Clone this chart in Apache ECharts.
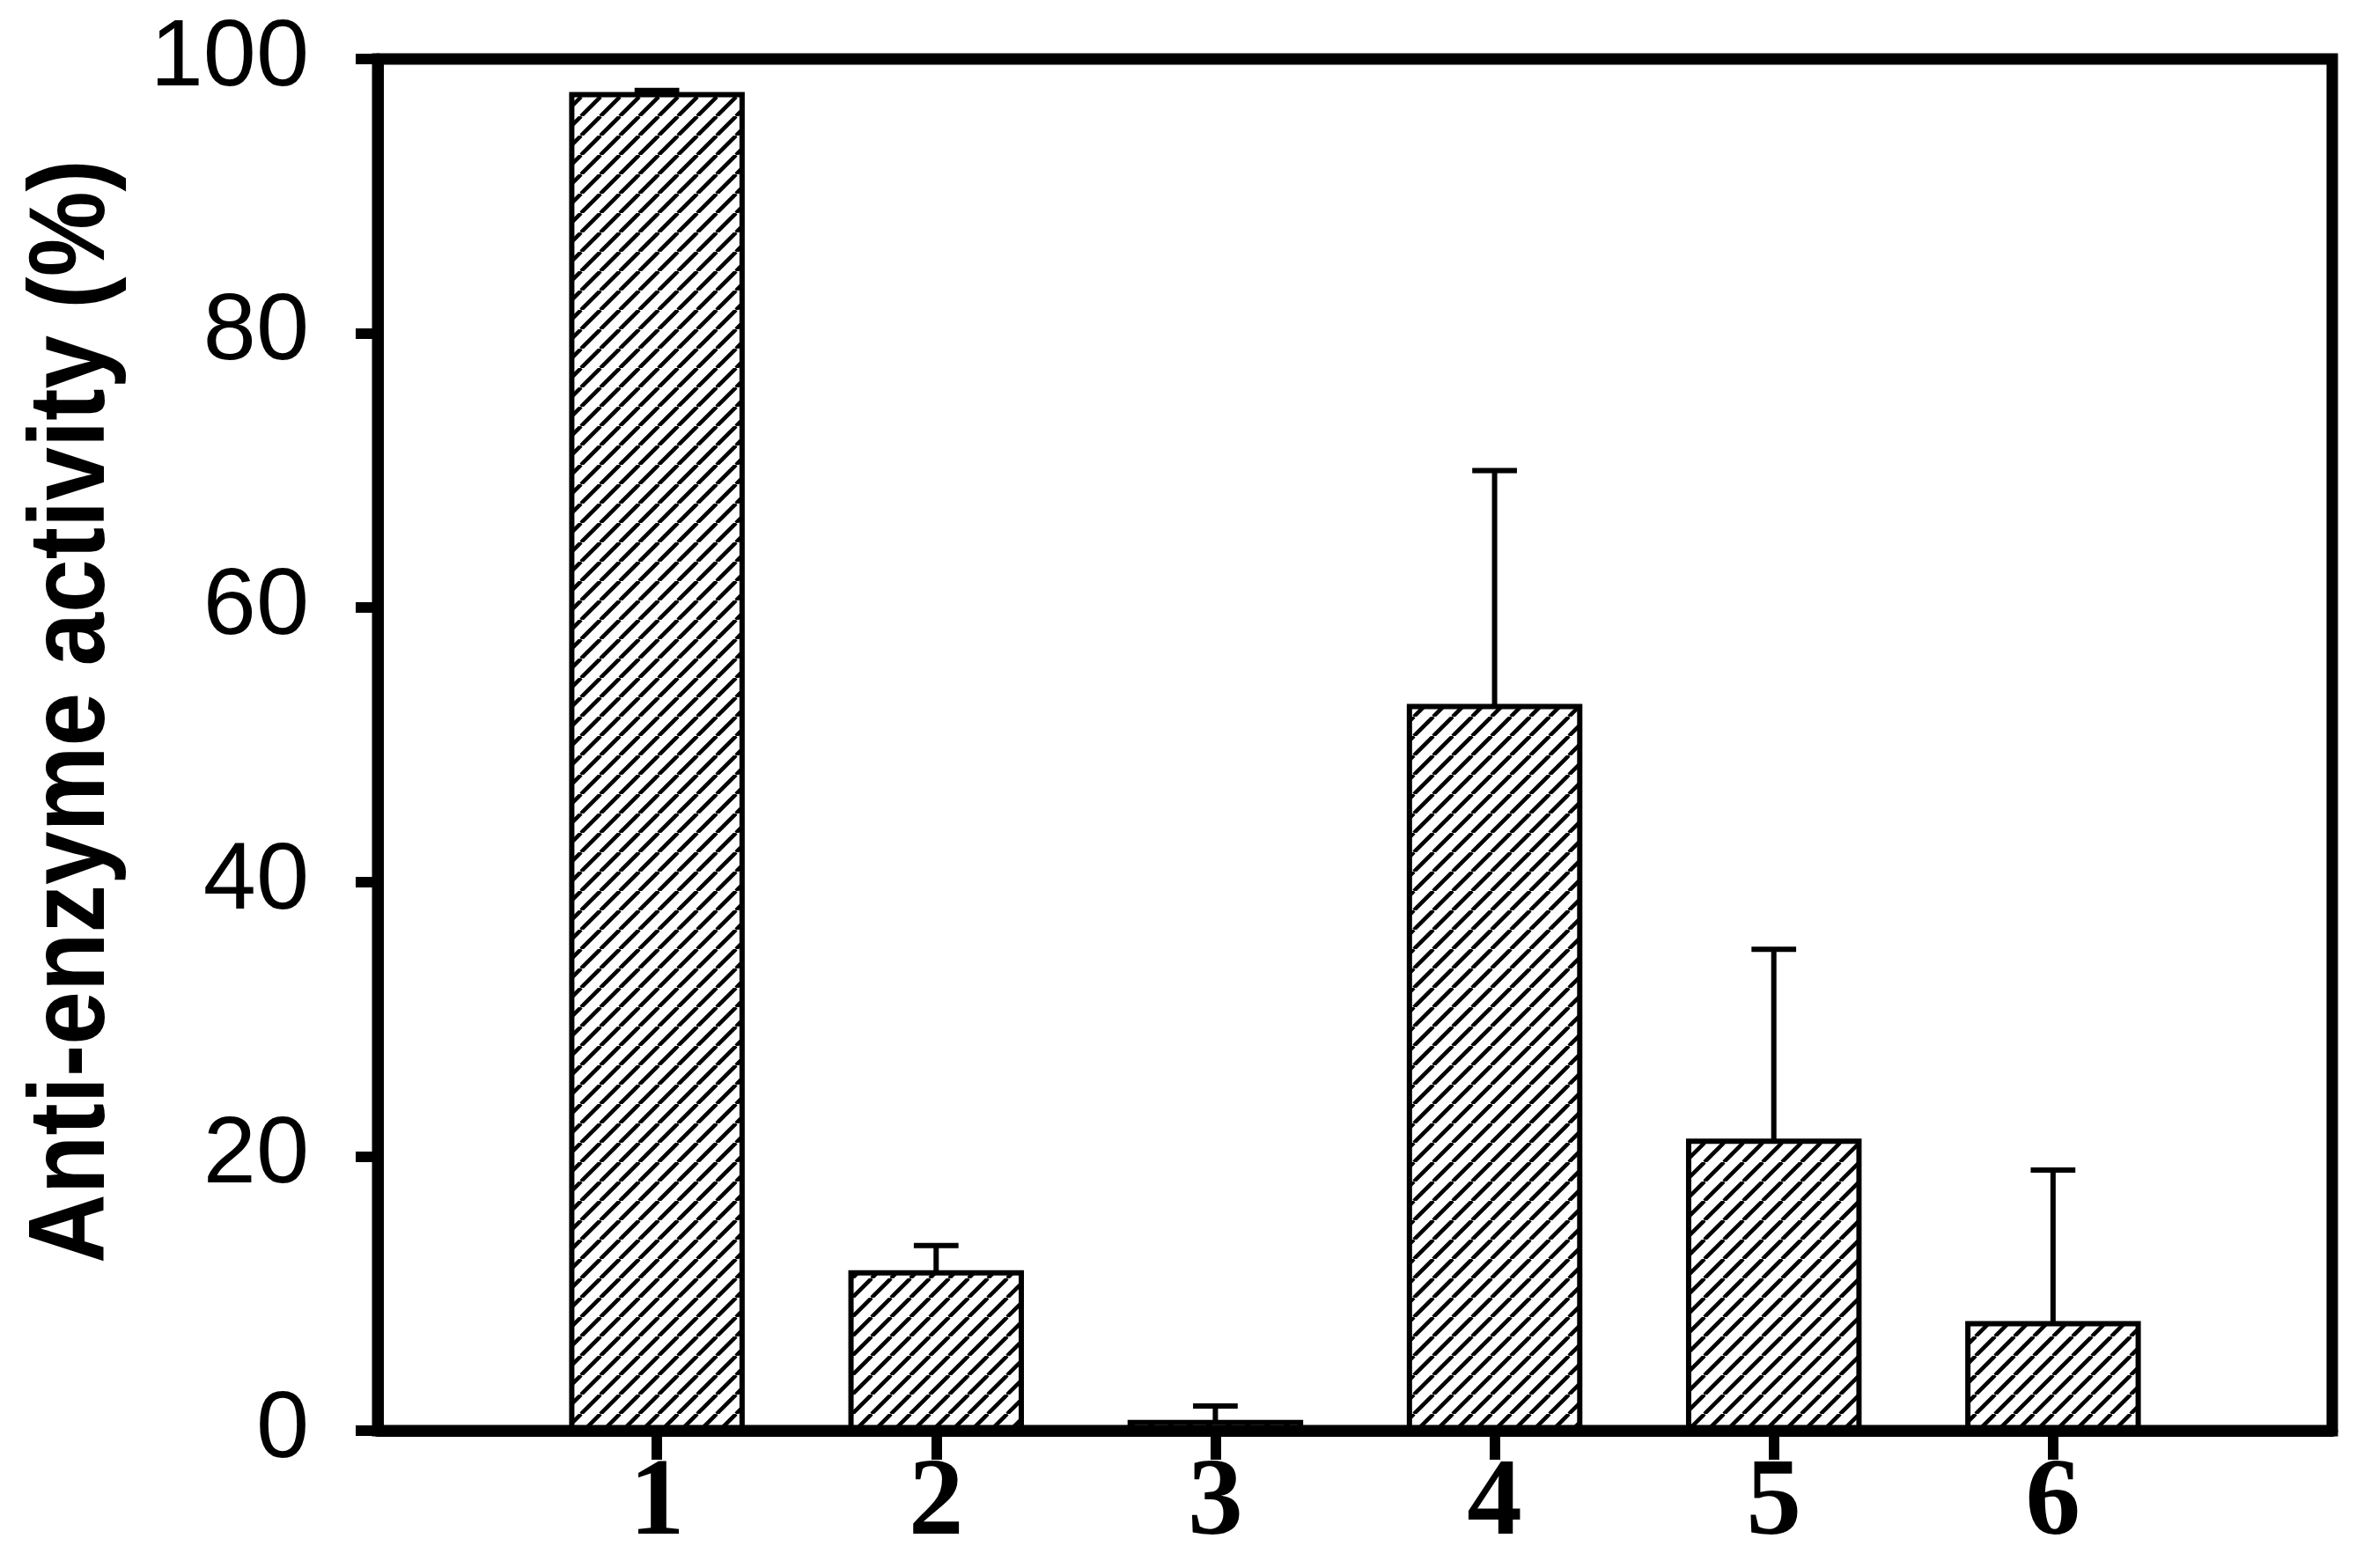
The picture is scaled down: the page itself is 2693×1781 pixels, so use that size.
<!DOCTYPE html>
<html>
<head>
<meta charset="utf-8">
<script src="https://cdn.jsdelivr.net/npm/echarts@6/dist/echarts.min.js"></script>
<style>
  html, body { margin: 0; padding: 0; background: #fff; }
  #chart { width: 2693px; height: 1781px; }
</style>
</head>
<body>
<div id="chart"></div>
<script>
// data
const categories = ['1', '2', '3', '4', '5', '6']
const positions = [1, 2, 3, 4, 5, 6]
const activity = [97.4, 11.5, 0.6, 52.8, 21.1, 7.8]
const errorUp = [0.3, 2.0, 1.2, 17.2, 14.0, 11.2]
const yTicks = [0, 20, 40, 60, 80, 100]

const barHalf = 0.305
const capHalf = 0.08

// diagonal hatch used as bar fill
const hatch = document.createElement('canvas')
hatch.width = 22
hatch.height = 22
const hctx = hatch.getContext('2d')
hctx.strokeStyle = '#000'
hctx.lineWidth = 4.5
hctx.beginPath()
;[-22, 0, 22].forEach((dx) => {
  hctx.moveTo(dx, 22)
  hctx.lineTo(dx + 22, 0)
})
hctx.stroke()
const hatchFill = { image: hatch, repeat: 'repeat' }

const barData = positions.map((p, i) => [p, activity[i]])
const errData = positions.map((p, i) => [p, activity[i], activity[i] + errorUp[i]])

const myChart = echarts.init(document.getElementById('chart'))

const option = {
  backgroundColor: '#fff',
  animation: false,
  grid: {
    left: 429,
    right: 44,
    top: 67,
    bottom: 156,
    show: true,
    borderColor: '#000',
    borderWidth: 13,
    outerBoundsMode: 'none'
  },
  xAxis: {
    type: 'value',
    min: 0,
    max: 7,
    interval: 1,
    axisLine: { show: true, onZero: false, lineStyle: { color: '#000', width: 13 } },
    axisTick: {
      show: true,
      customValues: positions,
      length: 33,
      lineStyle: { color: '#000', width: 12 }
    },
    axisLabel: {
      customValues: positions,
      formatter: (v) => categories[positions.indexOf(v)],
      fontFamily: 'Liberation Serif',
      fontWeight: 'bold',
      fontSize: 125,
      color: '#000',
      margin: 22
    },
    splitLine: { show: false }
  },
  yAxis: {
    type: 'value',
    min: yTicks[0],
    max: yTicks[yTicks.length - 1],
    interval: yTicks[1] - yTicks[0],
    axisLine: { show: true, lineStyle: { color: '#000', width: 13 } },
    axisTick: { show: true, length: 25, lineStyle: { color: '#000', width: 12 } },
    axisLabel: {
      fontFamily: 'Liberation Sans',
      fontSize: 108,
      color: '#000',
      margin: 78,
      showMinLabel: true,
      showMaxLabel: true
    },
    splitLine: { show: false }
  },
  graphic: [
    {
      type: 'text',
      x: 84,
      y: 808,
      rotation: Math.PI / 2,
      scaleY: 1.12,
      style: {
        text: 'Anti-enzyme activity (%)',
        fontFamily: 'Liberation Sans',
        fontWeight: 'bold',
        fontSize: 109,
        fill: '#000',
        align: 'center',
        verticalAlign: 'middle'
      }
    }
  ],
  series: [
    {
      name: 'error',
      type: 'custom',
      z: 1,
      data: errData,
      renderItem: (params, api) => {
        const x = api.value(0)
        const base = api.coord([x, api.value(1)])
        const top = api.coord([x, api.value(2)])
        const capL = api.coord([x - capHalf, api.value(2)])
        const capR = api.coord([x + capHalf, api.value(2)])
        return {
          type: 'group',
          children: [
            {
              type: 'line',
              shape: { x1: base[0], y1: base[1], x2: top[0], y2: top[1] },
              style: { stroke: '#000', lineWidth: 6 }
            },
            {
              type: 'line',
              shape: { x1: capL[0], y1: capL[1], x2: capR[0], y2: capR[1] },
              style: { stroke: '#000', lineWidth: 6 }
            }
          ]
        }
      }
    },
    {
      name: 'activity',
      type: 'custom',
      z: 2,
      data: barData,
      renderItem: (params, api) => {
        const x = api.value(0)
        const p0 = api.coord([x - barHalf, api.value(1)])
        const p1 = api.coord([x + barHalf, 0])
        return {
          type: 'rect',
          shape: { x: p0[0], y: p0[1], width: p1[0] - p0[0], height: p1[1] - p0[1] },
          style: { fill: hatchFill, stroke: '#000', lineWidth: 6 }
        }
      }
    }
  ]
}
myChart.setOption(option)
</script>
</body>
</html>
